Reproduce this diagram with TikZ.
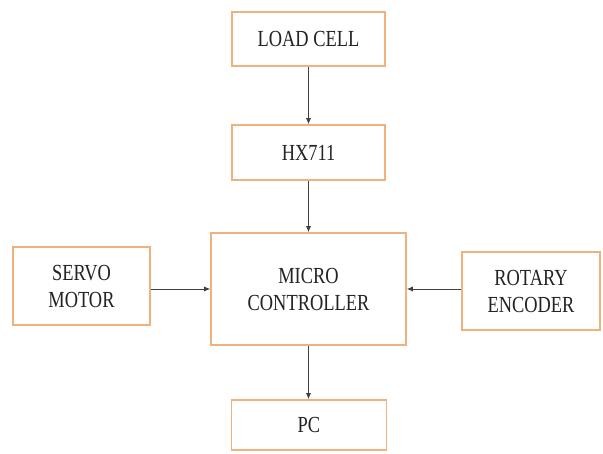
\documentclass[tikz,border=0pt]{standalone}
\usepackage{fontspec}
\usepackage{graphicx}
\setmainfont{Liberation Serif}
\usetikzlibrary{arrows.meta}
\definecolor{boxorange}{RGB}{240,178,125}
\definecolor{txtgrey}{RGB}{35,35,35}
\newcommand{\sq}[1]{\scalebox{0.8}[1]{#1}}
\tikzset{
  blk/.style={draw=boxorange, line width=1.6pt, fill=white, text=txtgrey,
    align=center, inner sep=0pt, font=\fontsize{23}{27}\selectfont},
  arr/.style={draw=black!75, line width=0.8pt, -{Latex[length=6pt,width=5pt]}}
}
\begin{document}
\begin{tikzpicture}[x=1pt,y=-1pt]
\fill[white] (0,0) rectangle (603,454);
\useasboundingbox (0,0) rectangle (603,454);
\node[blk, minimum width=153pt, minimum height=54pt] (load) at (308.5,39) {\sq{LOAD CELL}};
\node[blk, minimum width=153pt, minimum height=55pt] (hx) at (308.5,152.5) {\sq{HX711}};
\node[blk, minimum width=195pt, minimum height=112pt] (mc) at (308.5,289) {\sq{MICRO}\\\sq{CONTROLLER}};
\node[blk, minimum width=137pt, minimum height=78pt] (servo) at (81.5,286) {\sq{SERVO}\\\sq{MOTOR}};
\node[blk, minimum width=138pt, minimum height=78pt] (rot) at (531,291) {\sq{ROTARY}\\\sq{ENCODER}};
\node[blk, minimum width=155pt, minimum height=50pt] (pc) at (309,425) {\sq{PC}};
\draw[arr] (load) -- (hx);
\draw[arr] (hx) -- (mc);
\draw[arr] (servo.east |- mc.west) -- (mc.west);
\draw[arr] (rot.west |- mc.east) -- (mc.east);
\draw[arr] (mc.south) -- (mc.south |- pc.north);
\end{tikzpicture}
\end{document}
